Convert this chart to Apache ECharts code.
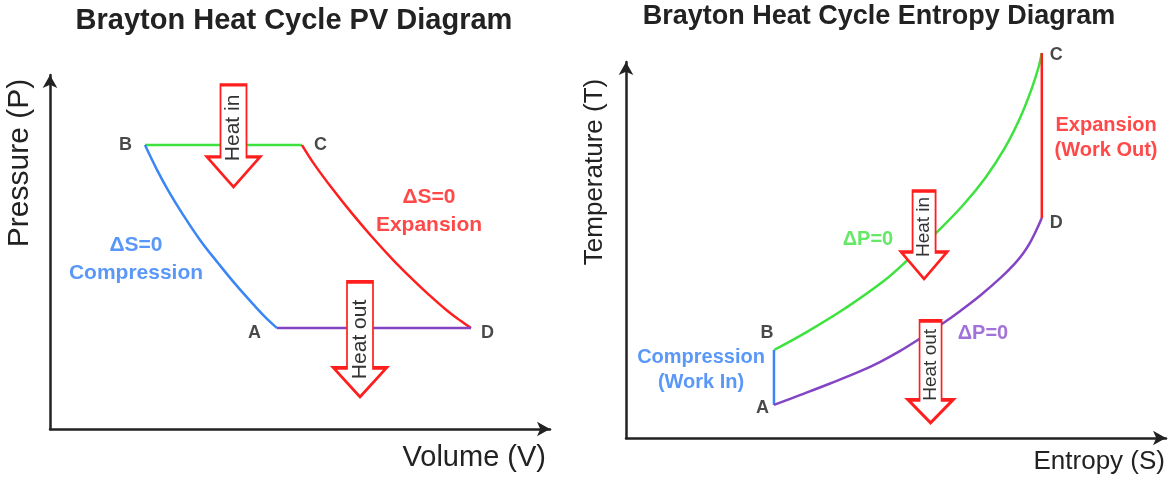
<!DOCTYPE html>
<html><head><meta charset="utf-8">
<script src="https://cdn.jsdelivr.net/npm/echarts@6/dist/echarts.min.js"></script>
<style>html,body{margin:0;padding:0;background:#fff}#c{width:1174px;height:481px}</style>
</head><body><div id="c"></div>
<script>
// ---------------- data (axis units 0..100) ----------------
const pvPointNames = ['A', 'B', 'C', 'D'];
const pvPoints = [[45.4, 28.5], [19.0, 80.2], [50.4, 80.2], [84.2, 28.5]];
const pvCompression = [[19.0, 80.2], [21.4, 73.2], [23.6, 67.5], [26.4, 61.0], [30.0, 53.4], [33.6, 46.9], [37.2, 40.7], [40.8, 35.0], [43.2, 31.4], [45.4, 28.5]];
const pvHeatAdded = [[19.0, 80.2], [50.4, 80.2]];
const pvExpansion = [[50.4, 80.2], [52.8, 74.9], [56.4, 68.0], [60.4, 60.9], [64.2, 54.6], [68.6, 47.8], [72.2, 42.7], [75.8, 37.9], [79.2, 33.7], [82.2, 30.5], [84.2, 28.5]];
const pvHeatRejected = [[45.4, 28.5], [84.2, 28.5]];
const pvArrows = [[36.7, 82.8], [62.0, 25.3]];
const pvArrowTexts = ['Heat in', 'Heat out'];
const pvNotes = [[17.2, 48.0], [75.8, 61.6]];
const pvNoteTexts = ['ΔS=0\nCompression', 'ΔS=0\nExpansion'];

const tsPointNames = ['A', 'B', 'C', 'D'];
const tsPoints = [[27.4, 8.8], [27.4, 23.4], [77.0, 102.4], [77.0, 58.5]];
const tsCompression = [[27.4, 8.8], [27.4, 23.4]];
const tsHeatAdded = [[27.4, 23.4], [33.6, 28.3], [40.6, 34.5], [47.6, 41.6], [52.5, 47.8], [57.4, 54.5], [62.4, 61.9], [66.6, 69.3], [70.1, 77.0], [72.9, 84.9], [75.0, 92.4], [76.4, 98.6], [77.0, 102.4]];
const tsExpansion = [[77.0, 102.4], [77.0, 58.5]];
const tsHeatRejected = [[27.4, 8.8], [32.2, 11.4], [37.8, 14.5], [43.3, 17.7], [47.0, 20.2], [50.7, 23.1], [54.3, 26.3], [58.3, 30.1], [61.9, 33.8], [65.6, 37.9], [69.3, 42.5], [72.0, 46.4], [73.5, 49.0], [74.8, 51.9], [76.0, 55.3], [77.0, 58.5]];
const tsArrows = [[55.2, 54.0], [56.4, 17.6]];
const tsArrowTexts = ['Heat in', 'Heat out'];
const tsNotes = [[13.9, 18.0], [88.9, 79.9], [44.8, 52.7], [66.1, 27.9]];
const tsNoteTexts = ['Compression\n(Work In)', 'Expansion\n(Work Out)', 'ΔP=0', 'ΔP=0'];

// ---------------- styles ----------------
const FONT = 'Liberation Sans, Arial, sans-serif';
const GREEN = '#3ee23e', BLUE = '#3a86f7', RED = '#ff1e1e', PURPLE = '#8445c4';
const TXT_BLUE = '#2f7df6', TXT_RED = '#ff1a1a', TXT_GREEN = '#3ee23e', TXT_PURPLE = '#8a4fd0';

function curve(data, color, gi) {
  return { type: 'line', xAxisIndex: gi, yAxisIndex: gi, data: data, smooth: 0.4, symbol: 'none',
    clip: false, silent: true, z: 2, lineStyle: { color: color, width: 2.5 } };
}
function arrowSeries(pt, text, gi, W, w, s, H, fs, up) {
  const a = (W - w) / 2, b = (W + w) / 2;
  return { type: 'scatter', xAxisIndex: gi, yAxisIndex: gi, z: 5, silent: true, clip: false,
    data: [pt],
    symbol: 'path://M' + a + ',0L' + b + ',0L' + b + ',' + s + 'L' + W + ',' + s + 'L' + (W / 2) + ',' + H + 'L0,' + s + 'L' + a + ',' + s + 'Z',
    symbolSize: [W, H],
    itemStyle: { color: '#fff', borderColor: RED, borderWidth: 2.5, opacity: 1 },
    label: { show: true, formatter: text, position: 'inside', rotate: 90, offset: [up, 0],
      color: '#333', fontSize: fs, fontFamily: FONT } };
}
function pointLabels(names, pts, cfg, gi) {
  return { type: 'scatter', xAxisIndex: gi, yAxisIndex: gi, z: 6, silent: true, clip: false,
    symbolSize: 0, itemStyle: { color: 'rgba(0,0,0,0)' },
    data: pts.map(function (p, i) {
      const c = cfg[names[i]];
      return { value: p, label: Object.assign({ show: true, formatter: names[i], color: '#1a1a1a',
        fontSize: 18, fontWeight: 'bold', fontFamily: FONT }, c) };
    }) };
}
function notes(pts, texts, colors, gi, fs, lh) {
  return { type: 'scatter', xAxisIndex: gi, yAxisIndex: gi, z: 6, silent: true, clip: false,
    symbolSize: 0, itemStyle: { color: 'rgba(0,0,0,0)' },
    data: pts.map(function (p, i) {
      return { value: p, label: { show: true, position: 'inside', formatter: texts[i], color: colors[i],
        fontSize: fs, fontWeight: 'bold', lineHeight: lh, align: 'center', fontFamily: FONT } };
    }) };
}

const pvLabelCfg = {
  A: { position: 'left', distance: 16, offset: [0, 5] },
  B: { position: 'left', distance: 13 },
  C: { position: 'right', distance: 12 },
  D: { position: 'right', distance: 10, offset: [0, 5] }
};
const tsLabelCfg = {
  A: { position: 'left', distance: 5, offset: [0, 3] },
  B: { position: 'top', distance: 8, offset: [-7, 0] },
  C: { position: 'right', distance: 8, offset: [0, 2] },
  D: { position: 'right', distance: 8, offset: [0, 5] }
};

function axisBase(extra) {
  return Object.assign({
    type: 'value', min: 0, max: 100,
    splitLine: { show: false }, axisTick: { show: false }, axisLabel: { show: false },
    axisLine: { show: true, symbol: ['none', 'arrow'], symbolSize: [11, 13],
      lineStyle: { color: '#222', width: 2.5 } }
  }, extra);
}

const chart = echarts.init(document.getElementById('c'), null, { renderer: 'canvas' });
chart.setOption({
  animation: false,
  backgroundColor: '#fff',
  textStyle: { fontFamily: FONT },
  title: [
    { text: 'Brayton Heat Cycle PV Diagram', left: 289, top: 1, textAlign: 'center',
      textStyle: { fontSize: 29, fontWeight: 'bold', color: '#222', fontFamily: FONT } },
    { text: 'Brayton Heat Cycle Entropy Diagram', left: 874, top: -2, textAlign: 'center',
      textStyle: { fontSize: 27, fontWeight: 'bold', color: '#222', fontFamily: FONT } }
  ],
  grid: [
    { left: 50, top: 75, width: 500, height: 354 },
    { left: 626, top: 62, width: 540, height: 376 }
  ],
  xAxis: [
    axisBase({ gridIndex: 0, name: 'Volume (V)', nameLocation: 'end', nameGap: -4,
      nameTextStyle: { fontSize: 29, color: '#222', align: 'right', verticalAlign: 'top', padding: [14, 0, 0, 0] } }),
    axisBase({ gridIndex: 1, name: 'Entropy (S)', nameLocation: 'end', nameGap: -1,
      nameTextStyle: { fontSize: 26, color: '#222', align: 'right', verticalAlign: 'top', padding: [11, 0, 0, 0] } })
  ],
  yAxis: [
    axisBase({ gridIndex: 0, name: 'Pressure (P)', nameLocation: 'middle', nameRotate: 90, nameGap: 15,
      nameTextStyle: { fontSize: 30, color: '#222', padding: [0, 0, 0, 178] } }),
    axisBase({ gridIndex: 1, name: 'Temperature (T)', nameLocation: 'middle', nameRotate: 90, nameGap: 18,
      nameTextStyle: { fontSize: 26, color: '#222', padding: [0, 0, 0, 156] } })
  ],
  series: [
    curve(pvHeatAdded, GREEN, 0),
    curve(pvCompression, BLUE, 0),
    curve(pvExpansion, RED, 0),
    curve(pvHeatRejected, PURPLE, 0),
    arrowSeries(pvArrows[0], pvArrowTexts[0], 0, 53, 26, 72, 102, 21, 8),
    arrowSeries(pvArrows[1], pvArrowTexts[1], 0, 53, 26, 86, 115, 21, 0),
    pointLabels(pvPointNames, pvPoints, pvLabelCfg, 0),
    notes(pvNotes, pvNoteTexts, [TXT_BLUE, TXT_RED], 0, 21, 28),

    curve(tsHeatAdded, GREEN, 1),
    curve(tsCompression, BLUE, 1),
    curve(tsExpansion, RED, 1),
    curve(tsHeatRejected, PURPLE, 1),
    arrowSeries(tsArrows[0], tsArrowTexts[0], 1, 46, 23, 61, 88, 19, 8),
    arrowSeries(tsArrows[1], tsArrowTexts[1], 1, 45, 22, 79, 102, 19, 7),
    pointLabels(tsPointNames, tsPoints, tsLabelCfg, 1),
    notes(tsNotes, tsNoteTexts, [TXT_BLUE, TXT_RED, TXT_GREEN, TXT_PURPLE], 1, 20, 25)
  ]
});
</script>
</body></html>
